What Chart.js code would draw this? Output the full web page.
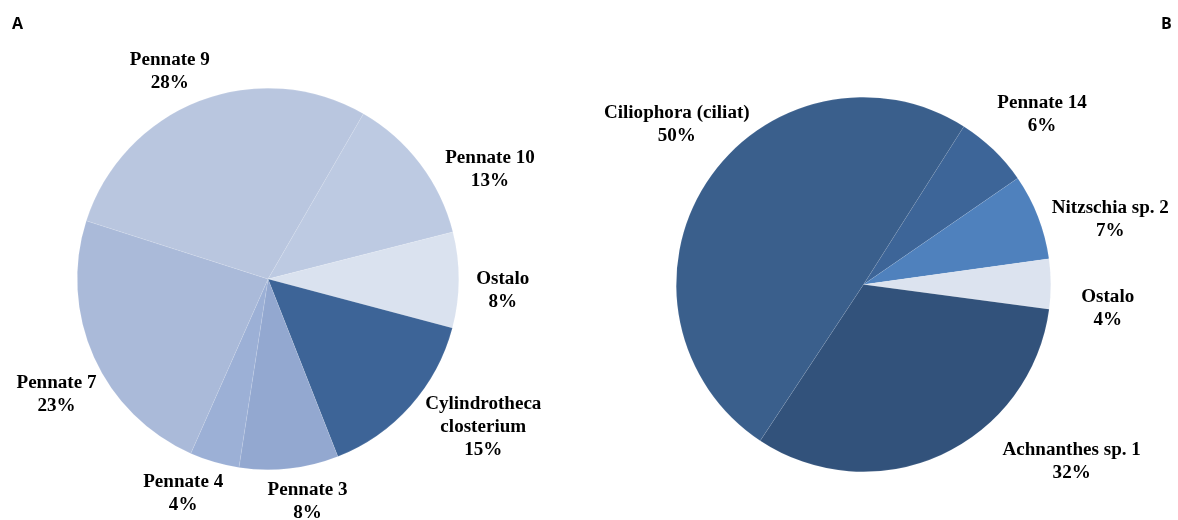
<!DOCTYPE html>
<html>
<head>
<meta charset="utf-8">
<script src="https://cdn.jsdelivr.net/npm/chart.js@4.4.1/dist/chart.umd.min.js"></script>
<style>
  body { margin: 0; background: #fff; }
  #wrap { position: relative; width: 1178px; height: 520px; }
  .panel { position: absolute; top: 0; width: 589px; height: 520px; }
  .tag { position: absolute; top: 12px; font: bold 16px "Open Sans", sans-serif; color: #000; }
</style>
</head>
<body>
<div id="wrap">
  <div class="panel" style="left:0"><canvas id="pieA"></canvas></div>
  <div class="panel" style="left:589px"><canvas id="pieB"></canvas></div>
  <div class="tag" style="left:12px">A</div>
  <div class="tag" style="left:1161px">B</div>
</div>
<script>
// panel A
const labelsA = [
  ["Pennate 10"],
  ["Ostalo"],
  ["Cylindrotheca", "closterium"],
  ["Pennate 3"],
  ["Pennate 4"],
  ["Pennate 7"],
  ["Pennate 9"],
];
const valuesA = [12.7, 8.1, 14.9, 8.4, 4.2, 23.3, 28.4];
const colorsA = ["#bdcae2", "#dae2ef", "#3d6497", "#93a8d0", "#9cb0d6", "#aabad9", "#b9c6df"];
// label nudges from the default outside position
const nudgeA = [[38, 30], [4, 11], [43, -5], [14, -6], [-20, -7], [-1, 21], [-15, 8]];

// panel B
const labelsB = [
  ["Pennate 14"],
  ["Nitzschia sp. 2"],
  ["Ostalo"],
  ["Achnanthes sp. 1"],
  ["Ciliophora (ciliat)"],
];
const valuesB = [6.4, 7.4, 4.3, 32.2, 49.7];
const colorsB = ["#3d6598", "#4f81bd", "#dce3ef", "#32527b", "#3a5f8c"];
const nudgeB = [[21, -6], [35, 18], [17, 25], [114, -29], [4, -36]];

// draws "name / xx%" outside each slice
const outsideLabels = {
  id: "outsideLabels",
  afterDraw(chart, args, opts) {
    const ctx = chart.ctx;
    const meta = chart.getDatasetMeta(0);
    const names = chart.data.labels;
    const vals = chart.data.datasets[0].data;
    ctx.save();
    ctx.fillStyle = "#000";
    ctx.font = "bold 18px 'Liberation Serif', 'Times New Roman', serif";
    ctx.textAlign = "center";
    ctx.textBaseline = "middle";
    meta.data.forEach(function (arc, i) {
      const p = arc.getProps(["x", "y", "startAngle", "endAngle", "outerRadius"], true);
      const mid = (p.startAngle + p.endAngle) / 2;
      const d = p.outerRadius + 40;
      const cx = p.x + Math.cos(mid) * d + opts.nudge[i][0];
      const cy = p.y + Math.sin(mid) * d + opts.nudge[i][1];
      const lines = names[i].concat([Math.round(vals[i]) + "%"]);
      const top = cy - ((lines.length - 1) * 23) / 2;
      lines.forEach(function (t, j) {
        ctx.save();
        ctx.translate(cx, top + j * 23);
        ctx.scale(1.06, 1);
        ctx.fillText(t, 0, 0);
        ctx.restore();
      });
    });
    ctx.restore();
  },
};

const pieA = document.getElementById("pieA").getContext("2d");
let pieAChart = new Chart(pieA, {
  type: "pie",
  data: {
    labels: labelsA,
    datasets: [
      {
        data: valuesA,
        backgroundColor: colorsA,
        borderColor: "rgba(255,255,255,0.2)",
        borderWidth: 0.5,
      },
    ],
  },
  options: {
    responsive: true,
    maintainAspectRatio: false,
    animation: false,
    rotation: 30,
    layout: {
      padding: { left: 77, right: 130, top: 88, bottom: 50 },
    },
    plugins: {
      legend: { display: false },
      tooltip: { enabled: false },
      outsideLabels: { nudge: nudgeA },
    },
  },
  plugins: [outsideLabels],
});

const pieB = document.getElementById("pieB").getContext("2d");
let pieBChart = new Chart(pieB, {
  type: "pie",
  data: {
    labels: labelsB,
    datasets: [
      {
        data: valuesB,
        backgroundColor: colorsB,
        borderColor: "rgba(255,255,255,0.15)",
        borderWidth: 0.5,
      },
    ],
  },
  options: {
    responsive: true,
    maintainAspectRatio: false,
    animation: false,
    rotation: 32.4,
    layout: {
      padding: { left: 87, right: 127, top: 97, bottom: 48 },
    },
    plugins: {
      legend: { display: false },
      tooltip: { enabled: false },
      outsideLabels: { nudge: nudgeB },
    },
  },
  plugins: [outsideLabels],
});
</script>
</body>
</html>
